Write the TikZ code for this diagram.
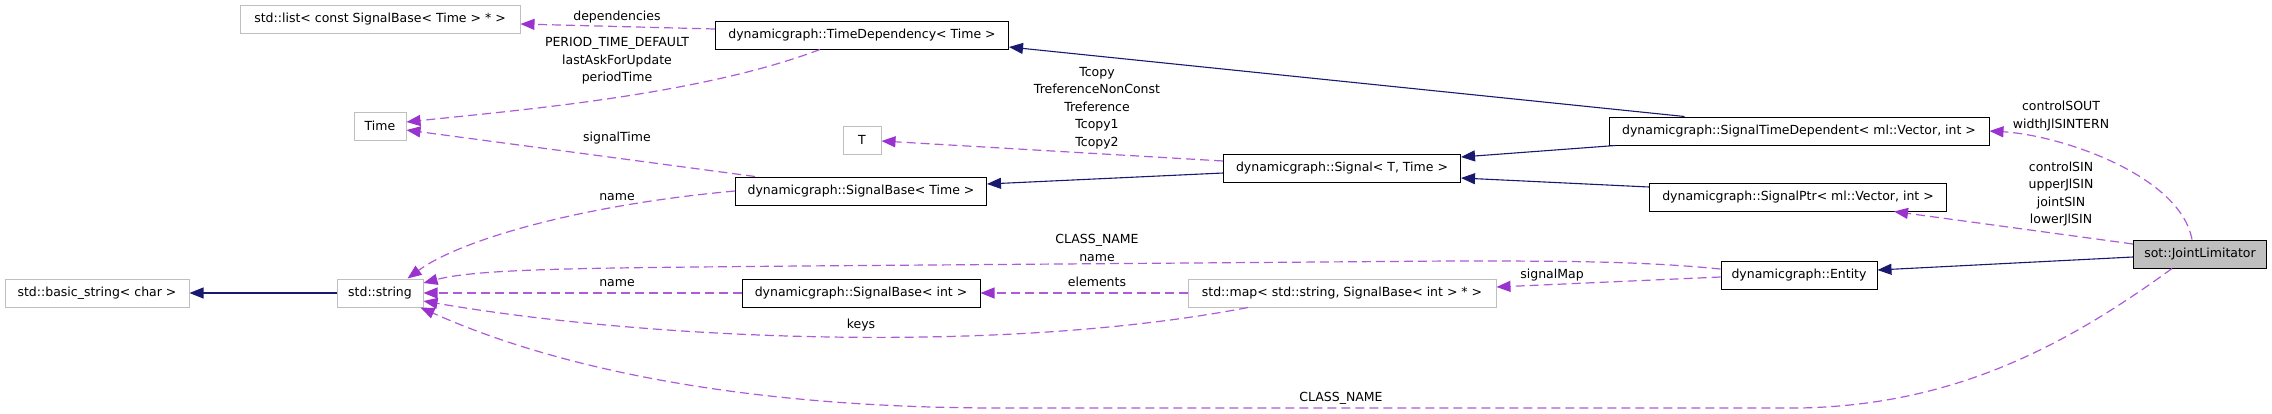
\documentclass[tikz,border=0pt]{standalone}
\usepackage{fontspec}
\setmainfont{DejaVu Sans}
\usetikzlibrary{arrows.meta}
\definecolor{inhc}{HTML}{191970}
\definecolor{usec}{HTML}{9A32CD}
\definecolor{grayb}{HTML}{BFBFBF}
\begin{document}
\begin{tikzpicture}[x=1pt,y=-1pt,
  every node/.style={font=\fontsize{12.5}{17.5}\selectfont, inner sep=0pt},
  cls/.style={draw=black, line width=1pt, minimum height=28pt, fill=white},
  ext/.style={draw=grayb, line width=1pt, minimum height=28pt, fill=white},
  cur/.style={draw=black, line width=1pt, minimum height=28pt, fill=grayb},
  inh/.style={draw=inhc, line width=1.1pt, -{Triangle[length=14pt,width=11pt,fill=inhc]}},
  use/.style={draw=usec!80!white, line width=1.2pt, dash pattern=on 9pt off 5pt, -{Triangle[length=14pt,width=11pt,fill=usec,color=usec]}},
  lbl/.style={align=center}
]
\useasboundingbox (0,0) rectangle (2272,413);
% nodes
\node[ext, minimum width=280pt] (list) at (380,19) {std::list< const SignalBase< Time > * >};
\node[ext, minimum width=52pt] (time) at (380,126) {Time};
\node[cls, minimum width=293pt] (tdep) at (862,35) {dynamicgraph::TimeDependency< Time >};
\node[ext, minimum width=38pt] (T) at (862,140) {T};
\node[cls, minimum width=251pt] (sbtime) at (861,191) {dynamicgraph::SignalBase< Time >};
\node[cls, minimum width=237pt] (signal) at (1342,168) {dynamicgraph::Signal< T, Time >};
\node[cls, minimum width=380pt] (std) at (1799,131) {dynamicgraph::SignalTimeDependent< ml::Vector, int >};
\node[cls, minimum width=297pt] (sptr) at (1798,197) {dynamicgraph::SignalPtr< ml::Vector, int >};
\node[ext, minimum width=184pt] (bstr) at (97,293) {std::basic\_string< char >};
\node[ext, minimum width=86pt] (str) at (380,293) {std::string};
\node[cls, minimum width=238pt] (sbint) at (861,293) {dynamicgraph::SignalBase< int >};
\node[ext, minimum width=308pt] (map) at (1342,293) {std::map< std::string, SignalBase< int > * >};
\node[cls, minimum width=156pt] (ent) at (1799,275) {dynamicgraph::Entity};
\node[cur, minimum width=133pt] (jl) at (2200,254) {sot::JointLimitator};
% inheritance edges
\draw[inh] (str.west) -- (bstr.east);
\draw[inh] ([yshift=-5pt]signal.west) -- ([yshift=7pt]sbtime.east);
\draw[inh] ([xshift=76pt]std.north west) -- ([yshift=-12pt]tdep.east);
\draw[inh] ([xshift=7pt]std.south west) -- ([yshift=11pt]signal.east);
\draw[inh] ([yshift=10pt]sptr.west) -- ([yshift=-10pt]signal.east);
\draw[inh] ([yshift=-3pt]jl.west) -- ([yshift=5pt]ent.east);
% usage edges
\draw[use] ([yshift=6pt]tdep.west) -- ([yshift=-5pt]list.east);
\draw[use] ([xshift=-42pt]tdep.south) .. controls (700,95) and (520,110) .. ([yshift=4pt]time.east);
\draw[use] ([xshift=20pt]sbtime.north west) -- ([yshift=-4pt]time.east);
\draw[use] (sbtime.west) .. controls (580,205) and (460,240) .. ([xshift=-16pt]str.north east);
\draw[use] ([yshift=7pt]signal.west) -- ([yshift=-1pt]T.east);
\draw[use] ([xshift=-8pt]jl.north) .. controls (2180,175) and (2060,135) .. (std.east);
\draw[use] ([yshift=10pt]jl.west) -- ([xshift=-53pt]sptr.south east);
\draw[use] ([xshift=-28pt]jl.south) .. controls (2060,350) and (1950,405) .. (1800,408) -- (1000,408) .. controls (750,408) and (560,370) .. ([xshift=-3pt]str.south east);
\draw[use] ([yshift=6pt]ent.west) .. controls (1640,261) and (1560,261) .. (1450,261) -- (800,266) .. controls (600,268) and (480,268) .. ([yshift=10pt]str.east);
\draw[use] ([yshift=-2pt]ent.west) -- ([yshift=6pt]map.east);
\draw[use] (map.west) -- (sbint.east);
\draw[use] ([xshift=-94pt]map.south) .. controls (1000,355) and (650,340) .. ([yshift=-8pt]str.east);
\draw[use] (sbint.west) -- (str.east);
% labels
\node[lbl] (l1) at (617,17) {dependencies};
\node[lbl] (l2) at (617,61) {PERIOD\_TIME\_DEFAULT\\lastAskForUpdate\\periodTime};
\node[lbl] (l3) at (617,138) {signalTime};
\node[lbl] (l4) at (617,197) {name};
\node[lbl] (l5) at (1097,108) {Tcopy\\TreferenceNonConst\\Treference\\Tcopy1\\Tcopy2};
\node[lbl] (l6) at (2061,116) {controlSOUT\\widthJlSINTERN};
\node[lbl] (l7) at (2061,194) {controlSIN\\upperJlSIN\\jointSIN\\lowerJlSIN};
\node[lbl] (l8) at (1097,248) {CLASS\_NAME\\name};
\node[lbl] (l9) at (1552,275) {signalMap};
\node[lbl] (l10) at (1097,282) {elements};
\node[lbl] (l11) at (617,283) {name};
\node[lbl] (l12) at (861,325) {keys};
\node[lbl] (l13) at (1341,398) {CLASS\_NAME};
\end{tikzpicture}
\end{document}
